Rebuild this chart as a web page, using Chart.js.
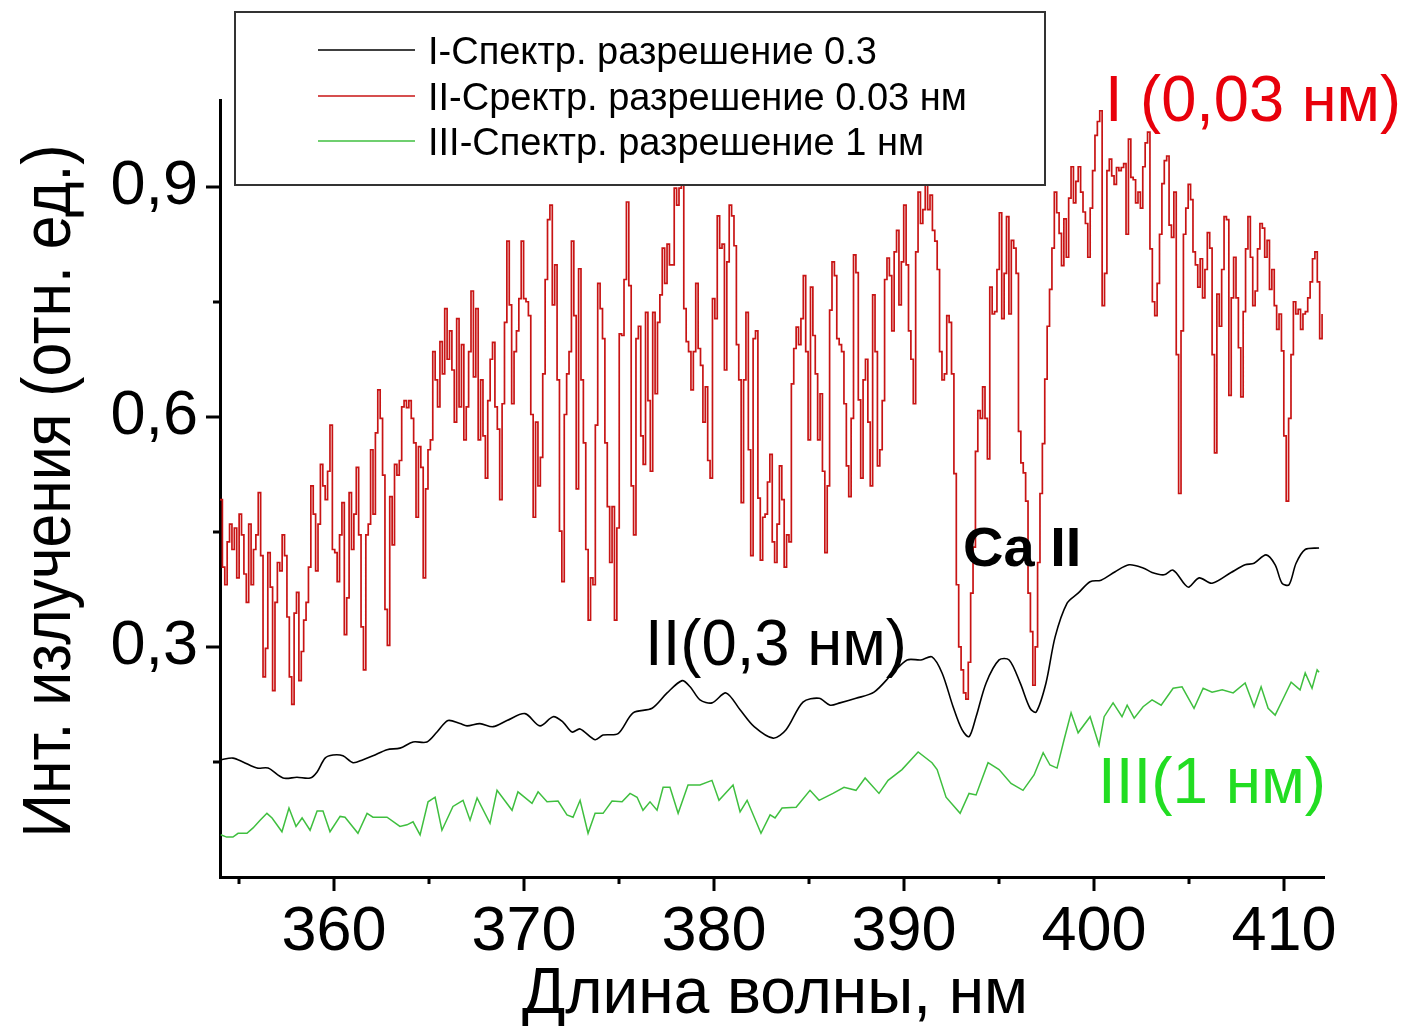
<!DOCTYPE html>
<html lang="ru">
<head>
<meta charset="utf-8">
<title>Спектр излучения</title>
<script src="https://cdn.jsdelivr.net/npm/chart.js@4.4.1/dist/chart.umd.min.js"></script>
<style>
    html, body { margin: 0; padding: 0; background: #ffffff; }
    #spectrumChart { display: block; }
</style>
</head>
<body>
<canvas id="spectrumChart" width="1408" height="1030"></canvas>
<script>
// ---- данные ----

// I (0,03 нм) : ряд с равным шагом по длине волны
const redStart = 354.0;
const redStep = 0.12581;
const redInt = [
    0.492,0.404,0.381,0.437,0.460,0.427,0.455,0.390,0.473,0.446,
    0.395,0.358,0.460,0.381,0.427,0.446,0.501,0.419,0.261,0.298,
    0.423,0.378,0.243,0.358,0.410,0.399,0.446,0.419,0.339,0.261,
    0.225,0.344,0.371,0.256,0.294,0.335,0.358,0.404,0.510,0.473,
    0.399,0.460,0.538,0.510,0.492,0.529,0.589,0.427,0.423,0.385,
    0.446,0.488,0.316,0.364,0.501,0.427,0.473,0.534,0.446,0.326,
    0.270,0.446,0.460,0.557,0.473,0.579,0.635,0.598,0.524,0.349,
    0.302,0.496,0.433,0.538,0.524,0.543,0.613,0.621,0.612,0.621,
    0.598,0.566,0.469,0.561,0.534,0.390,0.506,0.557,0.570,0.685,
    0.648,0.613,0.698,0.656,0.741,0.675,0.712,0.661,0.593,0.728,
    0.613,0.694,0.570,0.613,0.685,0.764,0.652,0.741,0.570,0.648,
    0.575,0.520,0.621,0.675,0.697,0.613,0.584,0.492,0.617,0.723,
    0.829,0.746,0.617,0.685,0.712,0.754,0.829,0.754,0.750,0.732,
    0.603,0.469,0.593,0.510,0.547,0.656,0.779,0.857,0.876,0.746,
    0.798,0.648,0.451,0.385,0.603,0.656,0.685,0.829,0.732,0.506,
    0.793,0.648,0.566,0.427,0.335,0.390,0.381,0.589,
    0.774,0.741,0.702,0.566,0.483,0.410,0.483,0.335,0.455,0.708,
    0.706,0.779,0.880,0.771,0.510,0.446,0.702,0.718,0.575,0.538,
    0.736,0.621,0.529,0.736,0.630,0.723,0.759,0.820,0.774,0.825,
    0.798,0.798,0.898,0.876,0.898,0.930,0.741,0.698,0.685,0.635,
    0.685,0.774,0.689,0.667,0.593,0.639,0.543,0.520,0.754,0.728,
    0.862,0.820,0.825,0.661,0.802,0.876,0.862,0.823,0.694,0.648,
    0.488,0.648,0.736,0.557,0.419,0.702,0.712,0.494,0.413,0.469,
    0.473,0.515,0.551,0.437,0.410,0.460,0.536,0.492,0.404,
    0.446,0.437,0.643,0.689,0.717,0.694,0.728,0.784,0.685,0.570,
    0.769,0.706,0.656,0.570,0.630,0.529,0.423,0.510,0.739,0.802,
    0.784,0.702,0.694,0.685,0.617,0.536,0.496,0.598,0.811,0.788,
    0.622,0.520,0.648,0.675,0.593,0.510,0.759,0.685,0.536,0.557,
    0.621,0.779,0.807,0.784,0.712,0.815,0.843,0.746,0.802,0.876,
    0.798,0.712,0.675,0.617,0.815,0.893,0.852,0.870,0.940,0.870,
    0.889,0.843,0.829,0.792,0.685,0.648,0.656,0.732,0.723,0.656,
    0.526,0.381,0.300,0.270,0.240,0.232,0.280,0.370,0.430,
    0.555,0.608,0.598,0.639,0.598,0.545,0.769,0.734,0.737,0.792,
    0.866,0.728,0.787,0.861,0.734,0.830,0.820,0.787,0.581,0.540,
    0.527,0.490,0.370,0.320,0.250,0.300,0.410,0.500,0.565,0.649,
    0.718,0.766,0.820,0.893,0.866,0.839,0.797,0.858,0.808,0.885,
    0.926,0.879,0.907,0.926,0.893,0.867,0.852,0.808,0.872,0.921,
    0.967,0.985,0.999,0.745,0.787,0.921,0.936,0.914,0.903,0.925,
    0.921,0.925,0.930,0.838,0.962,0.912,0.909,0.879,0.893,0.872,
    0.926,0.957,0.971,0.819,0.750,0.732,0.774,0.838,0.904,0.934,
    0.940,
    0.850,0.834,0.893,0.681,0.500,0.712,0.838,0.872,0.903,0.883,
    0.815,0.798,0.769,0.806,0.755,0.792,0.840,0.820,0.681,0.553,
    0.760,0.718,0.792,0.861,0.857,0.628,0.755,0.808,0.755,0.690,
    0.626,0.737,0.819,0.861,0.808,0.745,0.764,0.819,0.852,0.846,
    0.808,0.830,0.766,0.792,0.745,0.714,0.734,0.686,0.575,0.490,
    0.598,0.681,0.750,0.734,0.740,0.714,0.734,0.737,0.755,0.776,
    0.806,0.815,0.776,0.702,0.734
];

// II (0,3 нм)
const blackWave = [
    354.04,354.68,355.21,355.95,356.53,357.32,358.05,358.74,359.11,359.53,
    359.95,360.47,361.00,361.53,362.05,362.79,363.47,364.16,364.89,365.42,
    366.00,366.63,367.00,367.68,368.37,369.10,370.05,370.84,371.53,372.05,
    372.53,372.95,373.74,374.16,374.95,375.74,376.74,377.53,378.32,378.74,
    379.26,379.89,380.63,381.37,382.11,383.11,383.79,384.68,385.53,386.11,
    386.63,387.47,388.42,389.42,390.16,390.89,391.47,392.00,392.58,393.05,
    393.42,393.79,394.32,395.00,395.53,396.11,396.63,396.95,397.47,397.95,
    398.58,399.16,399.79,400.37,401.11,401.84,402.58,403.05,403.68,404.16,
    404.79,405.00,405.53,406.21,407.21,407.95,408.42,409.05,409.53,409.89,
    410.26,410.63,411.11,411.84
];
const blackInt = [
    0.153,0.155,0.150,0.142,0.142,0.129,0.130,0.129,0.137,0.155,
    0.159,0.158,0.149,0.153,0.158,0.166,0.168,0.176,0.176,0.189,
    0.204,0.200,0.197,0.200,0.196,0.204,0.213,0.197,0.209,0.202,
    0.189,0.193,0.179,0.185,0.187,0.214,0.220,0.240,0.256,0.248,
    0.231,0.227,0.240,0.218,0.196,0.181,0.192,0.228,0.233,0.224,
    0.227,0.233,0.241,0.266,0.283,0.283,0.287,0.266,0.222,0.192,
    0.183,0.209,0.253,0.283,0.283,0.253,0.220,0.215,0.253,0.313,
    0.357,0.370,0.385,0.387,0.398,0.407,0.403,0.397,0.394,0.400,
    0.381,0.378,0.390,0.383,0.397,0.407,0.409,0.420,0.407,0.383,
    0.381,0.409,0.427,0.429
];

// III (1 нм)
const greenWave = [
    354.04,354.35,354.68,354.95,355.42,355.74,356.11,356.47,356.74,357.26,
    357.63,358.00,358.32,358.74,359.11,359.42,359.79,360.32,360.58,361.26,
    361.74,362.05,362.79,363.47,363.84,364.16,364.53,364.95,365.32,365.68,
    366.26,366.79,367.16,367.53,368.21,368.58,369.37,369.68,370.42,370.74,
    371.21,371.79,372.26,372.58,372.95,373.37,373.74,374.16,374.63,375.16,
    375.58,375.95,376.26,376.63,377.00,377.32,377.68,378.11,378.63,379.26,
    379.89,380.26,381.00,381.37,381.74,382.47,382.95,383.21,383.58,384.32,
    385.05,385.53,386.26,386.84,387.47,387.95,388.68,389.16,389.89,390.74,
    391.47,391.74,392.21,392.95,393.42,393.79,394.42,395.00,395.63,396.26,
    396.84,397.32,397.68,398.05,398.42,398.79,399.16,399.79,400.26,400.53,
    401.00,401.47,401.74,402.11,402.58,403.05,403.53,404.16,404.63,405.26,
    405.74,406.21,406.74,407.32,407.95,408.42,408.79,409.16,409.53,410.00,
    410.37,410.84,411.11,411.47,411.74,411.84
];
const greenInt = [
    0.055,0.052,0.052,0.057,0.057,0.064,0.074,0.083,0.077,0.059,
    0.090,0.066,0.077,0.061,0.086,0.086,0.059,0.079,0.078,0.057,
    0.083,0.078,0.078,0.066,0.068,0.072,0.055,0.098,0.104,0.061,
    0.092,0.100,0.074,0.103,0.070,0.113,0.087,0.111,0.096,0.111,
    0.098,0.099,0.081,0.078,0.100,0.057,0.083,0.083,0.099,0.098,
    0.109,0.104,0.087,0.098,0.087,0.117,0.117,0.083,0.120,0.120,
    0.126,0.100,0.120,0.085,0.100,0.057,0.081,0.077,0.090,0.091,
    0.113,0.100,0.109,0.117,0.113,0.129,0.109,0.126,0.140,0.163,
    0.149,0.140,0.104,0.083,0.109,0.107,0.149,0.140,0.122,0.113,
    0.133,0.162,0.146,0.142,0.179,0.214,0.188,0.209,0.172,0.209,
    0.227,0.209,0.224,0.207,0.222,0.231,0.224,0.246,0.248,0.220,
    0.246,0.241,0.244,0.240,0.253,0.222,0.248,0.220,0.211,0.235,
    0.254,0.244,0.266,0.246,0.270,0.267
];

// оси
const xMajorTicks = [360, 370, 380, 390, 400, 410];
const xMinorTicks = [355, 365, 375, 385, 395, 405];
const yMajorTicks = [0.3, 0.6, 0.9];
const yMinorTicks = [0.15, 0.45, 0.75];
const yTickLabels = ['0,3', '0,6', '0,9'];

const legendLabels = [
    'I-Спектр. разрешение 0.3',
    'II-Сректр. разрешение 0.03 нм',
    'III-Спектр. разрешение 1 нм'
];

const FONT = '"Liberation Sans", Arial, sans-serif';

// точки для Chart.js
const redPoints = redInt.map((v, i) => ({ x: redStart + i * redStep, y: v }));
const blackPoints = blackWave.map((w, i) => ({ x: w, y: blackInt[i] }));
const greenPoints = greenWave.map((w, i) => ({ x: w, y: greenInt[i] }));


// засечки и подписи осей
const axisDecor = {
    id: 'axisDecor',
    afterDraw(chart) {
        const ctx = chart.ctx;
        const xs = chart.scales.x;
        const ys = chart.scales.y;
        const area = chart.chartArea;

        ctx.save();
        ctx.strokeStyle = '#000';
        ctx.lineWidth = 3;

        // засечки по X
        xMajorTicks.forEach(v => {
            const px = Math.round(xs.getPixelForValue(v));
            ctx.beginPath();
            ctx.moveTo(px, area.bottom);
            ctx.lineTo(px, area.bottom + 14);
            ctx.stroke();
        });
        xMinorTicks.forEach(v => {
            const px = Math.round(xs.getPixelForValue(v));
            ctx.beginPath();
            ctx.moveTo(px, area.bottom);
            ctx.lineTo(px, area.bottom + 7);
            ctx.stroke();
        });

        // засечки по Y
        yMajorTicks.forEach(v => {
            const py = Math.round(ys.getPixelForValue(v));
            ctx.beginPath();
            ctx.moveTo(area.left, py);
            ctx.lineTo(area.left - 14, py);
            ctx.stroke();
        });
        yMinorTicks.forEach(v => {
            const py = Math.round(ys.getPixelForValue(v));
            ctx.beginPath();
            ctx.moveTo(area.left, py);
            ctx.lineTo(area.left - 7, py);
            ctx.stroke();
        });

        // подписи делений
        ctx.fillStyle = '#000';
        ctx.font = '63px ' + FONT;
        ctx.textAlign = 'center';
        ctx.textBaseline = 'alphabetic';
        xMajorTicks.forEach(v => {
            ctx.fillText(String(v), xs.getPixelForValue(v), 950);
        });
        ctx.textAlign = 'right';
        ctx.textBaseline = 'middle';
        yMajorTicks.forEach((v, i) => {
            ctx.fillText(yTickLabels[i], 198, ys.getPixelForValue(v));
        });

        // названия осей
        ctx.textAlign = 'center';
        ctx.textBaseline = 'alphabetic';
        ctx.font = '64px ' + FONT;
        ctx.fillText('Длина волны, нм', 775, 1013, 510);

        ctx.save();
        ctx.translate(70, 491);
        ctx.rotate(-Math.PI / 2);
        ctx.font = '68px ' + FONT;
        ctx.fillText('Инт. излучения (отн. ед.)', 0, 0, 693);
        ctx.restore();

        ctx.restore();
    }
};

// подписи кривых и легенда
const notes = {
    id: 'notes',
    afterDatasetsDraw(chart) {
        const ctx = chart.ctx;
        ctx.save();
        ctx.textAlign = 'left';
        ctx.textBaseline = 'alphabetic';

        ctx.fillStyle = '#e8000b';
        ctx.font = '64px ' + FONT;
        ctx.fillText('I (0,03 нм)', 1105, 121, 296);

        ctx.fillStyle = '#000';
        ctx.fillText('II(0,3 нм)', 645, 665, 262);

        ctx.fillStyle = '#22dd22';
        ctx.fillText('III(1 нм)', 1098, 803, 228);

        ctx.fillStyle = '#000';
        ctx.font = 'bold 56px ' + FONT;
        ctx.fillText('Ca II', 963, 566, 130);

        // легенда
        ctx.fillStyle = '#fff';
        ctx.fillRect(235, 12, 810, 173);
        ctx.strokeStyle = '#333';
        ctx.lineWidth = 2;
        ctx.strokeRect(235, 12, 810, 173);

        const legendColors = ['#000000', '#c81414', '#3fbf3f'];
        const rowY = [50, 96, 141];
        ctx.font = '38px ' + FONT;
        legendLabels.forEach((label, i) => {
            ctx.strokeStyle = legendColors[i];
            ctx.lineWidth = 1.5;
            ctx.beginPath();
            ctx.moveTo(318, rowY[i]);
            ctx.lineTo(415, rowY[i]);
            ctx.stroke();
            ctx.fillStyle = '#000';
            ctx.fillText(label, 428, rowY[i] + 14);
        });

        ctx.restore();
    }
};


const ctx = document.getElementById('spectrumChart').getContext('2d');

new Chart(ctx, {
    type: 'line',
    data: {
        datasets: [
            {
                label: legendLabels[1],
                data: redPoints,
                borderColor: '#c81414',
                borderWidth: 1.7,
                stepped: true,
                fill: false
            },
            {
                label: legendLabels[0],
                data: blackPoints,
                borderColor: '#000000',
                borderWidth: 1.6,
                tension: 0.3,
                fill: false
            },
            {
                label: legendLabels[2],
                data: greenPoints,
                borderColor: '#3fbf3f',
                borderWidth: 1.5,
                fill: false
            }
        ]
    },
    options: {
        responsive: false,
        animation: false,
        layout: {
            padding: { left: 220, top: 100, right: 84, bottom: 153 }
        },
        elements: {
            point: { radius: 0 }
        },
        plugins: {
            legend: { display: false },
            tooltip: { enabled: false }
        },
        scales: {
            x: {
                type: 'linear',
                min: 354,
                max: 412.1,
                ticks: { display: false },
                grid: { display: false, drawTicks: false },
                border: { display: true, color: '#000', width: 3 },
                afterFit: (scale) => { scale.height = 0; }
            },
            y: {
                type: 'linear',
                min: 0,
                max: 1.013,
                ticks: { display: false },
                grid: { display: false, drawTicks: false },
                border: { display: true, color: '#000', width: 3 },
                afterFit: (scale) => { scale.width = 0; }
            }
        }
    },
    plugins: [notes, axisDecor]
});
</script>
</body>
</html>
